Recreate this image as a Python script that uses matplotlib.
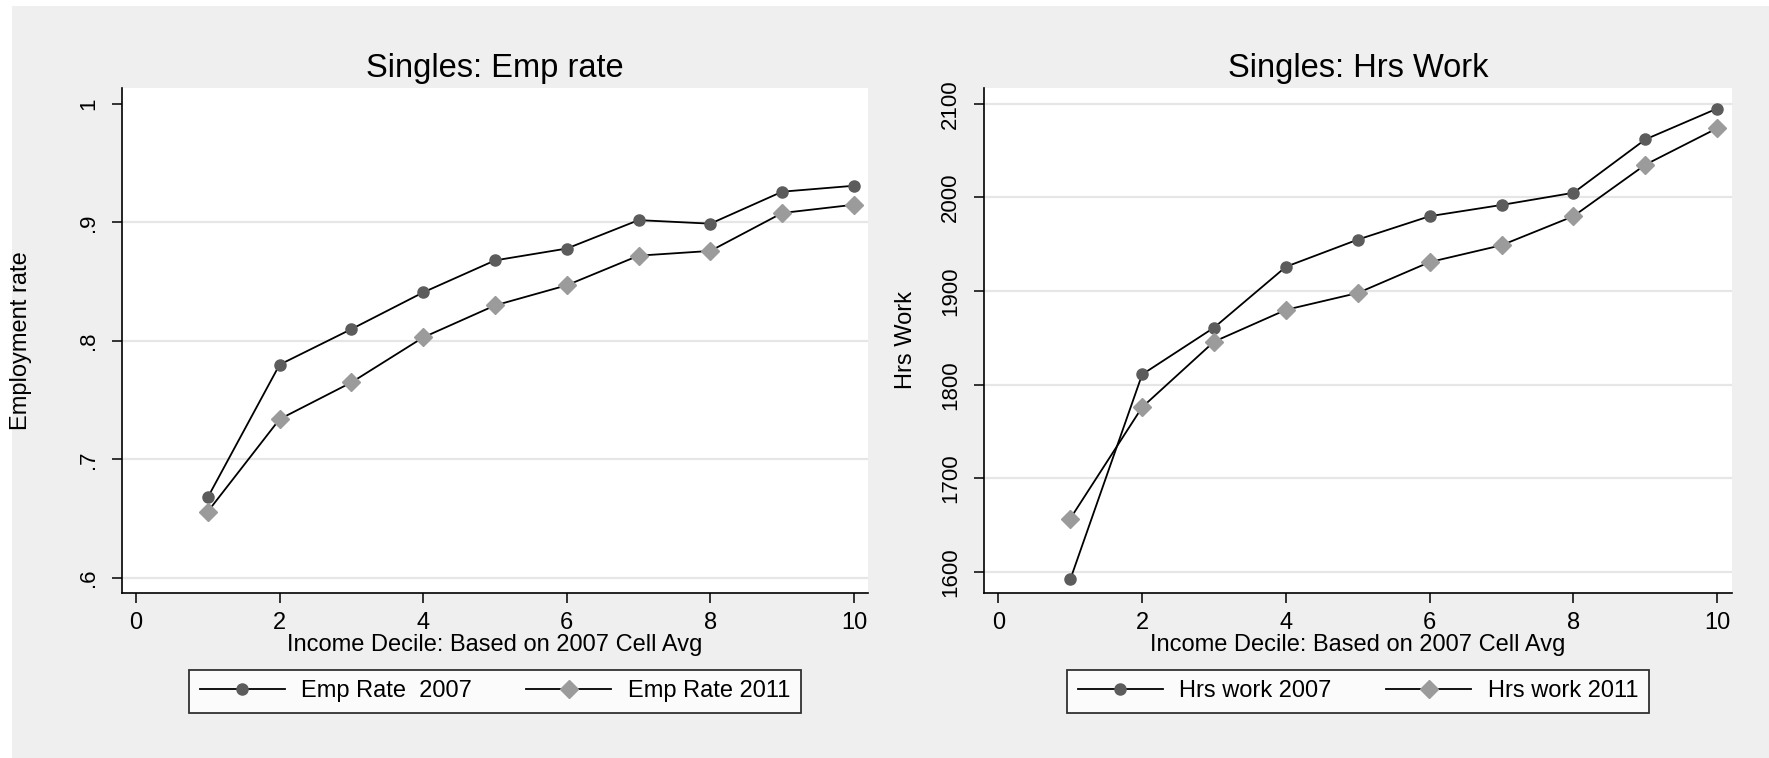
import matplotlib
matplotlib.use("Agg")
import matplotlib.pyplot as plt
from matplotlib.patches import Rectangle

plt.rcParams["font.family"] = ["Liberation Sans", "DejaVu Sans"]

# income deciles
deciles = [1, 2, 3, 4, 5, 6, 7, 8, 9, 10]

# employment rate by decile
emp_2007 = [0.668, 0.780, 0.810, 0.841, 0.868, 0.878, 0.902, 0.899, 0.926, 0.931]
emp_2011 = [0.656, 0.734, 0.765, 0.803, 0.830, 0.847, 0.872, 0.876, 0.908, 0.915]

# hours worked by decile
hrs_2007 = [1592, 1811, 1861, 1926, 1955, 1980, 1992, 2005, 2062, 2095]
hrs_2011 = [1657, 1776, 1846, 1880, 1898, 1931, 1949, 1980, 2035, 2074]

x_ticks = [0, 2, 4, 6, 8, 10]
emp_ticks = [0.6, 0.7, 0.8, 0.9, 1.0]
emp_ticklabels = [".6", ".7", ".8", ".9", "1"]
hrs_ticks = [1600, 1700, 1800, 1900, 2000, 2100]

BG = "#efefef"
GRID = "#e6e6e6"
DARK = "#5c5c5c"
LIGHT = "#9b9b9b"

W, H = 1769, 758
fig = plt.figure(figsize=(W / 100, H / 100), dpi=100, facecolor="white")
# gray graph region (white strip on top/left as in the original export)
fig.patches.append(Rectangle((12 / W, 0), 1, 1 - 6 / H, transform=fig.transFigure,
                             facecolor=BG, edgecolor="none", zorder=-10))


def draw_panel(rect, y1, y2, lab1, lab2, title, ylabel, ylim, xlim, yticks, yticklabels,
               grid_ticks, ylabel_x):
    ax = fig.add_axes(rect)
    ax.set_facecolor("white")
    for g in grid_ticks:
        ax.axhline(g, color=GRID, lw=1.6, zorder=0)
    ax.plot(deciles, y1, color="black", lw=1.3, marker="o", ms=8,
            mfc=DARK, mec=DARK, label=lab1, zorder=3)
    ax.plot(deciles, y2, color="black", lw=1.3, marker="D", ms=9,
            mfc=LIGHT, mec=LIGHT, label=lab2, zorder=3)
    ax.set_xlim(*xlim)
    ax.set_ylim(*ylim)
    ax.set_xticks(x_ticks)
    ax.set_yticks(yticks)
    ax.set_yticklabels(yticklabels, rotation=90, va="center")
    for s in ["top", "right"]:
        ax.spines[s].set_visible(False)
    for s in ["left", "bottom"]:
        ax.spines[s].set_linewidth(1.2)
    ax.tick_params(axis="both", length=7.5, width=1.1, color="black")
    ax.tick_params(axis="x", labelsize=17, pad=6)
    ax.tick_params(axis="y", labelsize=16, pad=9)
    ax.set_title(title, fontsize=23.5, pad=8)
    ax.set_ylabel(ylabel, fontsize=17)
    ax.yaxis.set_label_coords(ylabel_x, 0.5)
    ax.set_xlabel("Income Decile: Based on 2007 Cell Avg", fontsize=17, va="center")
    ax.xaxis.set_label_coords(0.5, -0.103)
    cx = rect[0] + rect[2] / 2
    leg = ax.legend(loc="center", bbox_to_anchor=(cx, 0.088), bbox_transform=fig.transFigure,
                    ncol=2, fontsize=17, frameon=True, fancybox=False, edgecolor="black",
                    handlelength=3.6, columnspacing=2.3, handletextpad=0.7,
                    borderpad=0.45, borderaxespad=0)
    leg.get_frame().set_linewidth(1.3)
    return ax


draw_panel([122 / W, 0.2177, 746 / W, 0.6662], emp_2007, emp_2011,
           "Emp Rate  2007", "Emp Rate 2011", "Singles: Emp rate", "Employment rate",
           (0.5873, 1.0135), (-0.195, 10.195), emp_ticks, emp_ticklabels,
           [0.6, 0.7, 0.8, 0.9], -0.121)

draw_panel([984 / W, 0.2177, 748 / W, 0.6662], hrs_2007, hrs_2011,
           "Hrs work 2007", "Hrs work 2011", "Singles: Hrs Work", "Hrs Work",
           (1577.6, 2116.9), (-0.2, 10.205), hrs_ticks, [str(t) for t in hrs_ticks],
           hrs_ticks, -0.090)

fig.savefig("out.png", dpi=100, facecolor=fig.get_facecolor())
